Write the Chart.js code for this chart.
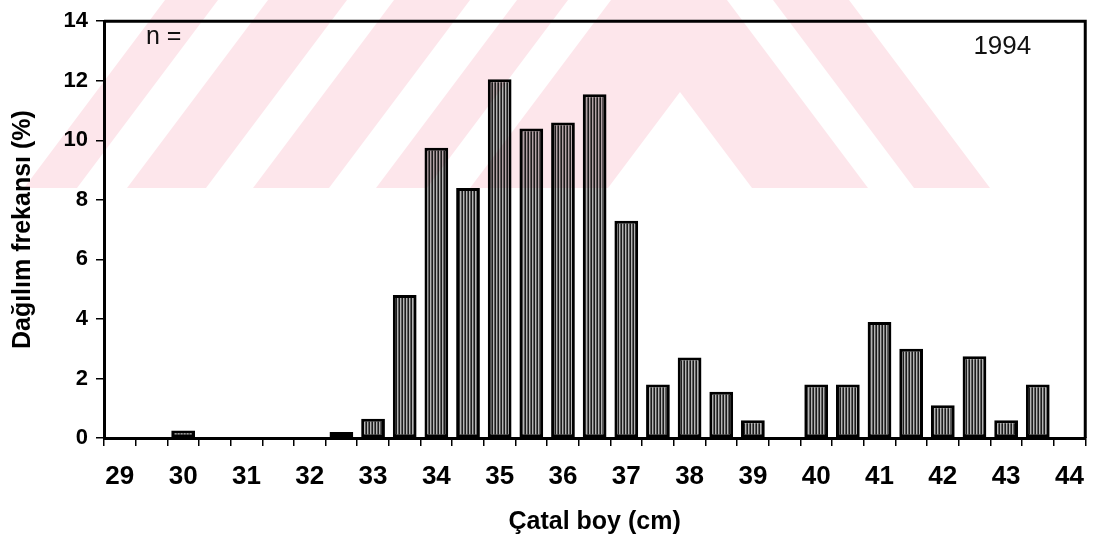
<!DOCTYPE html>
<html lang="tr">
<head>
<meta charset="utf-8">
<title>Çatal boy dağılımı 1994</title>
<script src="https://cdn.jsdelivr.net/npm/chart.js@4.4.1/dist/chart.umd.min.js"></script>
<style>
    html, body { margin: 0; padding: 0; background: #fff; }
    #wrap { width: 1099px; height: 551px; }
</style>
</head>
<body>
<div id="wrap"><canvas id="lengthChart" width="1099" height="551"></canvas></div>
<script>
// ─────────────────────────────────────────────
// DATA
// ─────────────────────────────────────────────
const sizeClasses = [
    '29', '29.5', '30', '30.5', '31', '31.5', '32', '32.5', '33', '33.5',
    '34', '34.5', '35', '35.5', '36', '36.5', '37', '37.5', '38', '38.5',
    '39', '39.5', '40', '40.5', '41', '41.5', '42', '42.5', '43', '43.5', '44'
];
const frequencies = [
    0, 0, 0.25, 0, 0, 0, 0, 0.2, 0.65, 4.8,
    9.75, 8.4, 12.05, 10.4, 10.6, 11.55, 7.3, 1.8, 2.7, 1.55,
    0.6, 0, 1.8, 1.8, 3.9, 3.0, 1.1, 2.75, 0.6, 1.8, 0
];
const yMax = 14;
const yStep = 2;
const yearLabel = '1994';
const countLabel = 'n =';


// ─────────────────────────────────────────────
// HELPERS
// ─────────────────────────────────────────────
function hatchPattern() {
    // vertical line hatching for the bar fill
    const c = document.createElement('canvas');
    c.width = 3;
    c.height = 4;
    const g = c.getContext('2d');
    const cols = ['#1c1c1c', '#b4b4b4', '#5c5c5c'];
    cols.forEach(function (col, i) {
        g.fillStyle = col;
        g.fillRect(i, 0, 1, 4);
    });
    return g.createPattern(c, 'repeat');
}

function quad(g, pts) {
    g.beginPath();
    g.moveTo(pts[0][0], pts[0][1]);
    for (let i = 1; i < pts.length; i++) g.lineTo(pts[i][0], pts[i][1]);
    g.closePath();
    g.fill();
}

// pale pink striped band, built off-screen then multiplied over the chart
function stripeBand(w) {
    const h = 188;
    const s = 141; // horizontal shift of a stripe over the band height
    const c = document.createElement('canvas');
    c.width = w;
    c.height = h;
    const g = c.getContext('2d');

    g.fillStyle = '#fde6eb';
    quad(g, [[165, 0], [849, 0], [849 + s, h], [165 - s, h]]);

    g.globalCompositeOperation = 'destination-out';
    g.fillStyle = '#000';
    [[218, 50], [347, 47], [470, 47], [568, 43]].forEach(function (b) {
        quad(g, [[b[0], 0], [b[0] + b[1], 0], [b[0] + b[1] - s, h], [b[0] - s, h]]);
    });
    quad(g, [[727, 0], [773, 0], [773 + s, h], [727 + s, h]]);
    quad(g, [[680, 92], [680 + 0.75 * (h - 92), h], [680 - 0.75 * (h - 92), h]]);
    return c;
}

const bold = "'Liberation Sans', Arial, sans-serif";
const sans = "'Liberation Sans', Arial, sans-serif";

// frame on top/right + free text in the plot
const framePlugin = {
    id: 'frame',
    afterDraw: function (chart) {
        const ctx = chart.ctx;
        const a = chart.chartArea;
        ctx.save();
        ctx.strokeStyle = '#000';
        ctx.lineWidth = 3;
        ctx.beginPath();
        ctx.moveTo(a.left, a.top);
        ctx.lineTo(a.right, a.top);
        ctx.lineTo(a.right, a.bottom);
        ctx.stroke();

        ctx.fillStyle = '#111';
        ctx.textBaseline = 'middle';
        ctx.font = '25px ' + sans;
        ctx.textAlign = 'left';
        ctx.fillText(countLabel, a.left + 42, 37);
        ctx.font = '26px ' + sans;
        ctx.textAlign = 'right';
        ctx.fillText(yearLabel, a.right - 54, 47);

        ctx.globalCompositeOperation = 'multiply';
        ctx.drawImage(stripeBand(chart.width), 0, 0);
        ctx.restore();
    }
};


// ─────────────────────────────────────────────
// CHART
// ─────────────────────────────────────────────
const el = document.getElementById('lengthChart');

new Chart(el.getContext('2d'), {
    type: 'bar',
    data: {
        labels: sizeClasses,
        datasets: [{
            data: frequencies,
            backgroundColor: hatchPattern(),
            borderColor: '#000',
            borderWidth: 3,
            borderSkipped: false,
            barPercentage: 0.75,
            categoryPercentage: 1
        }]
    },
    options: {
        responsive: false,
        animation: false,
        layout: { padding: { top: 18, right: 7, left: 0, bottom: 0 } },
        plugins: {
            legend: { display: false },
            tooltip: { enabled: false }
        },
        scales: {
            x: {
                offset: true,
                afterFit: function (scale) { scale.height = 113; },
                grid: {
                    offset: true,
                    drawOnChartArea: false,
                    tickLength: 8,
                    color: '#000',
                    lineWidth: 1.5
                },
                border: { color: '#000', width: 3 },
                ticks: {
                    autoSkip: false,
                    maxRotation: 0,
                    padding: 15,
                    color: '#000',
                    font: { family: bold, size: 26, weight: 'bold' },
                    callback: function (v, i) {
                        const lab = sizeClasses[i];
                        return lab.indexOf('.') === -1 ? lab : '';
                    }
                },
                title: {
                    display: true,
                    text: 'Çatal boy (cm)',
                    color: '#000',
                    font: { family: bold, size: 25, weight: 'bold' },
                    padding: { top: 0, bottom: 14 }
                }
            },
            y: {
                min: 0,
                max: yMax,
                afterFit: function (scale) { scale.width = 104; },
                grid: {
                    drawOnChartArea: false,
                    tickLength: 8,
                    color: '#000',
                    lineWidth: 1.5
                },
                border: { color: '#000', width: 3 },
                ticks: {
                    stepSize: yStep,
                    padding: 8,
                    color: '#000',
                    font: { family: sans, size: 22, weight: 'bold' }
                },
                title: {
                    display: true,
                    text: 'Dağılım frekansı (%)',
                    color: '#000',
                    font: { family: bold, size: 25, weight: 'bold' },
                    padding: { top: 8, bottom: 0 }
                }
            }
        }
    },
    plugins: [framePlugin]
});
</script>
</body>
</html>
